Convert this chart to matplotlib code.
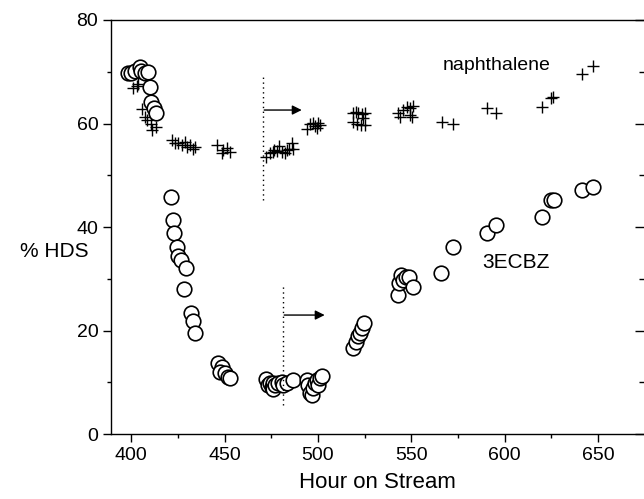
import matplotlib
matplotlib.use("Agg")
import matplotlib.pyplot as plt
from matplotlib.ticker import MultipleLocator

plt.rcParams.update({
    'font.family': ['Liberation Sans', 'DejaVu Sans'],
    'axes.linewidth': 1.0,
})

# naphthalene conversion (crosses)
naph_hours = [400.7, 402.9, 403.4, 405.8, 407.4, 408.5, 410.6, 411.2, 413.4,
              421.7, 423.3, 424.9, 427.1, 428.7, 429.8, 431.4, 433.0, 434.1,
              445.7, 448.9, 451.1, 452.7, 448.4,
              472.0, 474.1, 475.7, 476.3, 477.9, 478.9, 480.5, 482.2, 483.2, 484.3, 485.9, 486.4,
              493.9, 495.6, 497.2, 498.3, 499.4, 499.9, 500.9,
              518.6, 520.2, 521.3, 523.4, 525.0, 518.6, 520.7, 522.9, 525.0, 523.9,
              542.7, 543.8, 545.4, 547.5, 549.1, 550.7, 549.1, 550.2,
              566.3, 572.1, 590.3, 595.2, 619.9, 624.7, 625.8, 641.2, 647.1]
naph_hds = [66.9, 67.3, 67.6, 62.8, 61.3, 60.7, 59.9, 58.7, 59.3,
            56.8, 56.2, 56.2, 55.8, 56.4, 55.5, 55.8, 55.1, 55.5,
            55.8, 54.9, 55.3, 54.5, 54.3,
            53.5, 54.3, 54.5, 54.9, 54.7, 55.7, 54.5, 54.3, 54.9, 55.1, 56.2, 55.1,
            58.9, 59.9, 60.1, 59.5, 59.1, 60.1, 59.7,
            62.0, 62.2, 62.0, 61.8, 62.0, 60.3, 59.9, 59.7, 59.7, 61.0,
            62.0, 61.3, 62.6, 63.2, 63.0, 63.4, 61.6, 61.3,
            60.3, 59.9, 63.0, 62.0, 63.2, 64.9, 65.1, 69.6, 71.1]

# 3ECBZ conversion (open circles)
ecbz_hours = [398.2, 399.8, 402.0, 404.6, 405.2, 407.3, 408.9, 410.0, 410.6, 412.2, 413.2,
              421.1, 422.2, 422.7, 424.3, 424.9, 426.5, 429.1, 428.0, 431.8, 432.9, 433.9,
              446.3, 448.4, 447.3, 450.0, 451.6, 452.7,
              472.0, 473.1, 474.1, 475.2, 475.7, 475.7, 476.8, 478.4, 480.6, 481.1, 483.2, 486.4,
              493.9, 494.5, 495.6, 496.6, 497.2, 498.3, 499.4, 499.9, 500.9, 502.0,
              518.6, 520.2, 521.3, 522.3, 523.4, 524.5,
              542.7, 543.3, 544.3, 545.4, 547.0, 548.6, 550.7,
              565.7, 572.1, 590.3, 595.2, 619.9, 624.7, 626.3, 641.2, 647.1]
ecbz_hds = [69.8, 69.8, 70.1, 70.9, 70.1, 69.8, 70.0, 67.0, 64.2, 63.0, 62.0,
            45.8, 41.4, 38.8, 36.1, 34.4, 33.6, 32.1, 28.0, 23.4, 21.8, 19.5,
            13.7, 12.9, 12.0, 11.8, 11.0, 10.8,
            10.6, 9.5, 9.9, 9.1, 9.9, 8.7, 9.5, 9.9, 10.0, 9.5, 9.9, 10.4,
            10.4, 9.5, 7.9, 7.5, 8.9, 9.9, 10.4, 9.5, 10.8, 11.2,
            16.6, 17.8, 18.9, 19.5, 20.5, 21.4,
            26.9, 29.2, 30.7, 29.8, 30.3, 30.3, 28.4,
            31.1, 36.1, 38.8, 40.4, 41.9, 45.2, 45.2, 47.1, 47.7]

# condition-change markers: (hour, y bottom, y top, arrow end, arrow y)
naph_switch = (470.4, 45.2, 69.0, 491.3, 62.6)
ecbz_switch = (481.1, 5.6, 28.8, 503.6, 23.0)

fig = plt.figure(figsize=(6.44, 4.99), dpi=100)
ax = fig.add_axes([0.172, 0.130, 0.829, 0.830])

ax.plot(naph_hours, naph_hds, linestyle='none', marker='+', color='black',
        markersize=8, markeredgewidth=1.0)
ax.plot(ecbz_hours, ecbz_hds, linestyle='none', marker='o', markerfacecolor='white',
        markeredgecolor='black', markersize=10.5, markeredgewidth=1.2)

for h, y0, y1, h_end, y_arr in (naph_switch, ecbz_switch):
    ax.plot([h, h], [y0, y1], linestyle=(0, (1, 2.5)), color='black', linewidth=1.0)
    ax.annotate('', xy=(h_end, y_arr), xytext=(h + 0.8, y_arr),
                arrowprops=dict(arrowstyle='-|>', color='black', lw=1.0,
                                mutation_scale=14, shrinkA=0, shrinkB=0))

ax.text(567, 71.3, 'naphthalene', fontsize=14, va='center', ha='left')
ax.text(588, 33.2, '3ECBZ', fontsize=15, va='center', ha='left')

ax.set_xlim(389, 675)
ax.set_ylim(0, 80)
ax.xaxis.set_major_locator(MultipleLocator(50))
ax.xaxis.set_minor_locator(MultipleLocator(25))
ax.yaxis.set_major_locator(MultipleLocator(20))
ax.yaxis.set_minor_locator(MultipleLocator(10))
ax.tick_params(axis='both', which='major', direction='out', length=6, width=1.0,
               labelsize=14, pad=3)
ax.tick_params(axis='both', which='minor', direction='out', length=3, width=1.0)

# inward ticks on the right-hand axis (spine sits at the image edge)
ax_r = ax.secondary_yaxis('right')
ax_r.yaxis.set_major_locator(MultipleLocator(20))
ax_r.yaxis.set_minor_locator(MultipleLocator(10))
ax_r.tick_params(which='major', direction='in', length=7, width=1.0, labelright=False)
ax_r.tick_params(which='minor', direction='in', length=4, width=1.0)

ax.set_xlabel('Hour on Stream', fontsize=16, labelpad=6)
ax.set_ylabel('% HDS', fontsize=15, rotation=0, va='center', ha='center')
ax.yaxis.set_label_coords(-0.105, 0.44)

fig.savefig('out.png', dpi=100)
